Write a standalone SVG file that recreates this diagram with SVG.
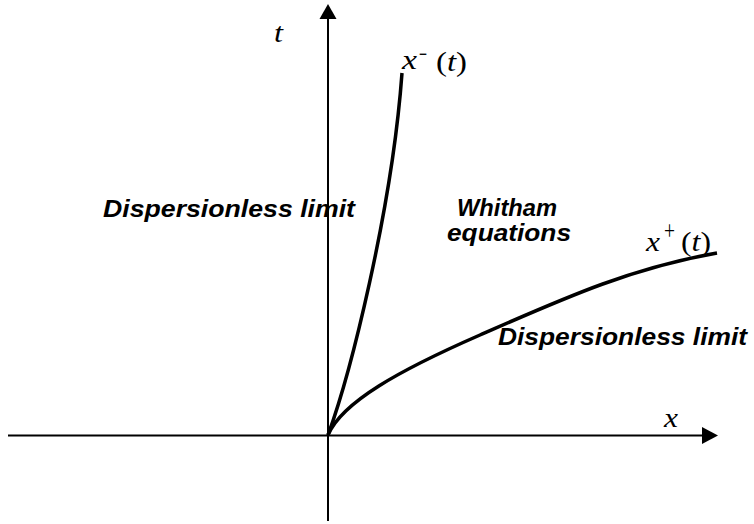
<svg xmlns="http://www.w3.org/2000/svg" width="754" height="524" viewBox="0 0 754 524">
<style>
.axis{stroke:#000;stroke-width:2;fill:none}
.curve{stroke:#000;stroke-width:3.5;fill:none;stroke-linecap:butt}
.m{font-family:"Liberation Serif","Times New Roman",serif;font-size:27px;fill:#000}
.i{font-style:italic}
.lbl{font-family:"Liberation Sans",Arial,sans-serif;font-weight:bold;font-style:italic;font-size:23px;fill:#000}
</style>
<rect width="754" height="524" fill="#fff"/>
<g id="connectors">
<line class="axis" x1="8" y1="435.5" x2="703" y2="435.5"/>
<polygon points="702,427 718,435.5 702,444" fill="#000"/>
<line class="axis" x1="328" y1="521" x2="328" y2="18"/>
<polygon points="319.5,19 328,4 336.5,19" fill="#000"/>
<path id="xminus" class="curve" d="M328,435 C350,375 392,210 402,73"/>
<path id="xplus" class="curve" d="M328,435 C342,402 400,370 480,335 C560,300 630,268 717,253"/>
</g>
<g id="label-t"><text class="m i" x="274" y="42" textLength="9" lengthAdjust="spacingAndGlyphs">t</text></g>
<g id="label-x"><text class="m i" x="664" y="427" textLength="14" lengthAdjust="spacingAndGlyphs">x</text></g>
<g id="label-xminus">
<text class="m i" x="402" y="69" textLength="15" lengthAdjust="spacingAndGlyphs">x</text>
<text class="m" x="419" y="63" font-size="15" textLength="8" lengthAdjust="spacingAndGlyphs">−</text>
<text class="m" x="436" y="71" textLength="31" lengthAdjust="spacingAndGlyphs">(<tspan class="i">t</tspan>)</text>
</g>
<g id="label-xplus">
<text class="m i" x="646" y="251" textLength="14" lengthAdjust="spacingAndGlyphs">x</text>
<text class="m" x="664" y="240" font-size="17" textLength="11" lengthAdjust="spacingAndGlyphs">+</text>
<text class="m" x="681" y="251" textLength="30" lengthAdjust="spacingAndGlyphs">(<tspan class="i">t</tspan>)</text>
</g>
<g id="region-left"><text class="lbl" x="103" y="217" textLength="252" lengthAdjust="spacingAndGlyphs">Dispersionless limit</text></g>
<g id="region-whitham">
<text class="lbl" x="457" y="216" textLength="100" lengthAdjust="spacingAndGlyphs">Whitham</text>
<text class="lbl" x="447" y="241" textLength="124" lengthAdjust="spacingAndGlyphs">equations</text>
</g>
<g id="region-right"><text class="lbl" x="498" y="345" textLength="249" lengthAdjust="spacingAndGlyphs">Dispersionless limit</text></g>
</svg>
